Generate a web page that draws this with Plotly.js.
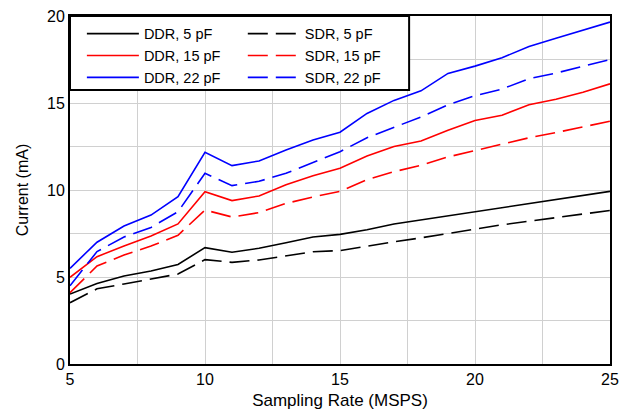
<!DOCTYPE html>
<html>
<head>
<meta charset="utf-8">
<script src="https://cdn.plot.ly/plotly-3.0.1.min.js"></script>
<style>html,body{margin:0;padding:0;background:#fff;}#chart{width:627px;height:411px;}</style>
</head>
<body>
<div id="chart"></div>
<script>
const rate = [5,6,7,8,9,10,11,12,13,14,15,16,17,18,19,20,21,22,23,24,25];
const ddr5  = [4.02,4.63,5.06,5.34,5.72,6.69,6.42,6.65,6.97,7.3,7.45,7.72,8.05,8.28,8.52,8.75,9.0,9.2,9.43,9.65,9.92];
const sdr5  = [3.52,4.32,4.6,4.87,5.17,6.0,5.84,5.98,6.2,6.45,6.52,6.78,7.02,7.25,7.52,7.75,8.0,8.22,8.43,8.62,8.82];
const ddr15 = [4.98,6.17,6.78,7.36,8.05,9.9,9.39,9.66,10.3,10.82,11.25,11.95,12.5,12.82,13.43,14.0,14.3,14.9,15.22,15.62,16.1];
const sdr15 = [4.1,5.63,6.26,6.78,7.4,8.85,8.45,8.7,9.23,9.6,9.92,10.6,11.05,11.42,11.9,12.26,12.6,13.0,13.3,13.62,13.95];
const ddr22 = [5.5,7.0,7.93,8.56,9.62,12.17,11.4,11.67,12.3,12.87,13.32,14.4,15.15,15.7,16.7,17.12,17.6,18.25,18.72,19.2,19.65];
const sdr22 = [4.5,6.46,7.3,7.85,8.75,10.96,10.25,10.5,10.96,11.57,12.2,13.0,13.6,14.2,14.9,15.42,15.8,16.4,16.72,17.1,17.5];

const dashPat = '20px,8px';
const mk = (y, name, color, dashed, legend) => ({
  x: rate, y: y, name: name, type: 'scatter', mode: 'lines',
  line: {color: color, width: 1.6, dash: dashed ? dashPat : 'solid'},
  legend: legend
});
const traces = [
  mk(ddr5, 'DDR, 5 pF', '#000000', false, 'legend'),
  mk(ddr15, 'DDR, 15 pF', '#ff0000', false, 'legend'),
  mk(ddr22, 'DDR, 22 pF', '#0000ff', false, 'legend'),
  mk(sdr5, 'SDR, 5 pF', '#000000', true, 'legend2'),
  mk(sdr15, 'SDR, 15 pF', '#ff0000', true, 'legend2'),
  mk(sdr22, 'SDR, 22 pF', '#0000ff', true, 'legend2')
];
const fam = 'Liberation Sans, Arial, sans-serif';
const tickFont = {family: fam, size: 16, color: '#000'};
const xTitleFont = {family: fam, size: 17, color: '#000'};
const yTitleFont = {family: fam, size: 16, color: '#000'};
const legFont = {family: fam, size: 14.5, color: '#000'};
const layout = {
  width: 627, height: 411,
  margin: {l: 70, r: 17, t: 16, b: 47},
  paper_bgcolor: '#fff', plot_bgcolor: '#fff',
  font: tickFont,
  showlegend: true,
  xaxis: {
    range: [5, 25], dtick: 5, tick0: 5, showgrid: true, gridcolor: '#d0d0d0', gridwidth: 1,
    minor: {dtick: 2.5, showgrid: true, gridcolor: '#d0d0d0', gridwidth: 1},
    showline: true, linecolor: '#000', linewidth: 2, mirror: true, ticks: '', zeroline: false,
    tickfont: tickFont,
    title: {text: 'Sampling Rate (MSPS)', font: xTitleFont, standoff: 7}
  },
  yaxis: {
    range: [0, 20], dtick: 5, tick0: 0, showgrid: true, gridcolor: '#d0d0d0', gridwidth: 1,
    minor: {dtick: 2.5, showgrid: true, gridcolor: '#d0d0d0', gridwidth: 1},
    showline: true, linecolor: '#000', linewidth: 2, mirror: true, ticks: '', zeroline: false,
    tickfont: tickFont,
    title: {text: 'Current (mA)', font: yTitleFont, standoff: 14}
  },
  legend: {
    x: 0.022, y: 0.995, xanchor: 'left', yanchor: 'top', itemwidth: 52,
    bgcolor: 'rgba(0,0,0,0)', borderwidth: 0, font: legFont, tracegroupgap: 0
  },
  legend2: {
    x: 0.32, y: 0.995, xanchor: 'left', yanchor: 'top', itemwidth: 52,
    bgcolor: 'rgba(0,0,0,0)', borderwidth: 0, font: legFont, tracegroupgap: 0
  },
  shapes: [{
    type: 'rect', xref: 'paper', yref: 'paper', x0: 0, x1: 0.628, y0: 0.787, y1: 1,
    line: {color: '#000', width: 2}, fillcolor: '#fff', layer: 'above'
  }]
};
Plotly.newPlot('chart', traces, layout, {displayModeBar: false, staticPlot: true});
</script>
</body>
</html>
